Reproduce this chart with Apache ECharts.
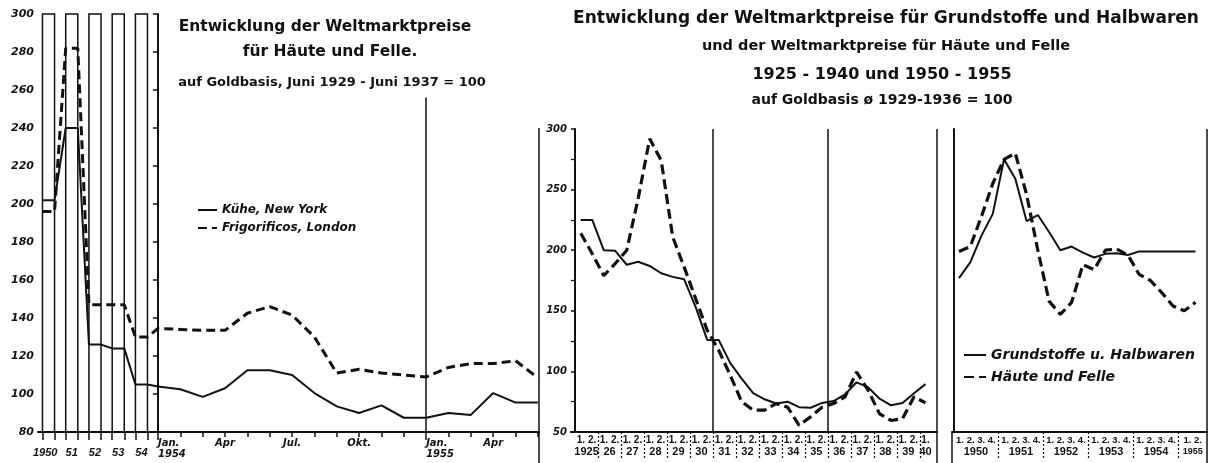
<!DOCTYPE html>
<html>
<head>
<meta charset="utf-8">
<script src="https://cdn.jsdelivr.net/npm/echarts@6/dist/echarts.min.js"></script>
<style>
  html, body { margin: 0; background: #fff; }
  #chart { width: 1209px; height: 463px; }
</style>
</head>
<body>
<div id="chart"></div>
<script>
// linkes Bild: Jahreswerte 1950-1954 (Säulen), dann Monatswerte Jan. 1954 - Jun. 1955
const yearLabels = ["1950", "51", "52", "53", "54"];
const kueheYear = [202, 240, 126, 124, 105];
const frigoYear = [196, 282, 147, 147, 130];
const monthLabels = ["Jan.\n1954", "Apr", "Jul.", "Okt.", "Jan.\n1955", "Apr"];
const monthLabelIdx = [0, 3, 6, 9, 12, 15];
const kueheMonth = [104, 102.5, 98.5, 103, 112.5, 112.5, 110, 100.5, 93.5, 90, 94, 87.5, 87.5, 90, 89, 100.5, 95.5, 95.5];
const frigoMonth = [134.5, 134, 133.5, 133.5, 142.5, 146, 141.5, 130, 111, 113, 111, 110, 109, 114, 116, 116, 117.5, 108.5];

// mittleres Bild: Halbjahreswerte 1925 - 1940 (1. Halbjahr)
const halfYearLabels = ["1925", "26", "27", "28", "29", "30", "31", "32", "33", "34", "35", "36", "37", "38", "39", "40"];
const grundHalf = [225, 225, 200, 199.5, 188, 190.5, 187, 181, 178, 176, 153, 126, 126, 107, 94, 82, 77, 73.5, 75, 70.5, 70, 74, 75.5, 81, 91, 87, 77.5, 72, 74, 82, 89.5];
const haeuteHalf = [214, 197, 179, 189, 200, 243, 292, 274, 211, 186, 160, 134, 117.5, 97, 75, 68, 68, 73.5, 70.5, 55.5, 62.5, 70.5, 73.5, 79, 99.5, 84.5, 65, 59.5, 61, 79, 74];

// rechtes Bild: Vierteljahreswerte 1950 - 1955
const quarterYearLabels = ["1950", "1951", "1952", "1953", "1954", "1955"];
const grundQuarter = [177, 190, 212, 230, 275, 259, 224, 229, 215, 200, 203, 198, 194, 197, 197.5, 196, 199, 199, 199, 199, 199, 199];
const haeuteQuarter = [199, 203, 228, 255, 275, 280, 246, 200, 158, 147, 157, 188, 184, 200, 201, 196, 180, 175, 165, 154, 150, 157];

const ink = "#111";
const LMIN = -5.37, LMAX = 17.05;
const colCenter = (i) => -4.9 + 1.04 * i;
const colHalf = 0.27;

function leftPoints(yearVals, monthVals) {
  const pts = [];
  yearVals.forEach((v, i) => {
    pts.push([colCenter(i) - colHalf, v], [colCenter(i) + colHalf, v]);
  });
  monthVals.forEach((v, m) => pts.push([m, v]));
  return pts;
}
const halfPoints = (vals) => vals.map((v, k) => [k + 0.5, v]);

const leftLabelVals = yearLabels.map((_, i) => colCenter(i) - (i === 0 ? 0.15 : 0))
  .concat(monthLabelIdx.filter((_, j) => !monthLabels[j].startsWith("Jan")));
const leftLabelText = yearLabels.map((t) => "{y|" + t + "}")
  .concat(monthLabels.filter((t) => !t.startsWith("Jan")).map((t) => "{m|" + t + "}"));
const janVals = monthLabelIdx.filter((_, j) => monthLabels[j].startsWith("Jan"));
const janText = monthLabels.filter((t) => t.startsWith("Jan"));
const colEdges = [];
yearLabels.forEach((_, i) => colEdges.push(colCenter(i) - colHalf, colCenter(i) + colHalf));

const pick = (vals, texts) => (v) => {
  const i = vals.findIndex((x) => Math.abs(x - v) < 1e-6);
  return i < 0 ? "" : texts[i];
};

const midLabelVals = halfYearLabels.map((_, i) => (i === 15 ? 30.5 : 2 * i + 1));
const midLabelText = halfYearLabels.map((t, i) => (i === 15 ? "{a|1.}\n{b|" + t + "}" : "{a|1. 2.}\n{b|" + t + "}"));
const rightLabelVals = quarterYearLabels.map((_, i) => (i === 5 ? 21.25 : 4 * i + 2));
const rightLabelText = quarterYearLabels.map((t, i) => (i === 5 ? "{a|1. 2.}\n{c|" + t + "}" : "{a|1. 2. 3. 4.}\n{b|" + t + "}"));

const lbl = { color: ink, fontFamily: "DejaVu Sans", fontWeight: "bold", fontStyle: "italic" };
const narrow = { color: ink, fontFamily: "Liberation Sans", fontWeight: "bold", fontStyle: "italic" };
const small = { color: ink, fontFamily: "Liberation Sans", fontWeight: "bold" };
const vline = { symbol: ["none", "none"], silent: true, label: { show: false },
  lineStyle: { color: ink, width: 1.5, type: "solid" }, emphasis: { disabled: true } };
const seg = (x, y1, y2) => [{ coord: [x, y1] }, { coord: [x, y2] }];
const title = (text, x, y, size) => ({ type: "text", x: x, y: y,
  style: { text: text, font: "bold " + size + "px DejaVu Sans", fill: ink, align: "center", verticalAlign: "middle" } });

const chart = echarts.init(document.getElementById("chart"));
const option = {
  backgroundColor: "#fff",
  animation: false,
  graphic: [
    title("Entwicklung der Weltmarktpreise", 325, 27, 15.5),
    title("für Häute und Felle.", 330, 52, 15.5),
    title("auf Goldbasis, Juni 1929 - Juni 1937 = 100", 332, 83, 13),
    title("Entwicklung der Weltmarktpreise für Grundstoffe und Halbwaren", 886, 19, 17),
    title("und der Weltmarktpreise für Häute und Felle", 886, 46, 14.5),
    title("1925 - 1940 und 1950 - 1955", 882, 75, 16),
    title("auf Goldbasis ø 1929-1936 = 100", 882, 100, 14)
  ],
  legend: [
    {
      data: ["Kühe, New York", "Frigorificos, London"],
      orient: "vertical", left: 192, top: 199, itemWidth: 19, itemHeight: 10, itemGap: 6,
      itemStyle: { opacity: 0 },
      textStyle: { ...lbl, fontSize: 12 }, selectedMode: false
    },
    {
      data: ["Grundstoffe u. Halbwaren", "Häute und Felle"],
      orient: "vertical", left: 958, top: 343, itemWidth: 22, itemHeight: 10, itemGap: 8,
      itemStyle: { opacity: 0 },
      textStyle: { ...lbl, fontSize: 14 }, selectedMode: false
    }
  ],
  grid: [
    { left: 38, top: 14, width: 501, height: 418 },
    { left: 571, top: 129, width: 366, height: 303 },
    { left: 952, top: 129, width: 255, height: 303 }
  ],
  xAxis: [
    {
      gridIndex: 0, type: "value", position: "bottom", min: LMIN, max: LMAX,
      axisLine: { lineStyle: { color: ink, width: 2 } }, splitLine: { show: false },
      axisTick: { customValues: kueheMonth.map((_, m) => m).filter((m) => m !== 0 && m !== 12), length: 5, lineStyle: { color: ink, width: 1.5 } },
      axisLabel: {
        customValues: leftLabelVals, margin: 6, formatter: pick(leftLabelVals, leftLabelText),
        rich: { y: { ...narrow, fontSize: 11, padding: [9, 0, 0, 0] }, m: { ...lbl, fontSize: 10 } }
      }
    },
    {
      gridIndex: 0, type: "value", position: "bottom", min: LMIN, max: LMAX,
      axisLine: { show: false }, splitLine: { show: false },
      axisTick: { customValues: colEdges.concat(janVals), length: 8, lineStyle: { color: ink, width: 1.5 } },
      axisLabel: { customValues: janVals, margin: 6, align: "left", lineHeight: 11, formatter: pick(janVals, janText), ...lbl, fontSize: 10 }
    },
    {
      gridIndex: 0, type: "value", position: "bottom", min: LMIN, max: LMAX,
      axisLine: { show: false }, splitLine: { show: false }, axisLabel: { show: false },
      axisTick: { customValues: [LMAX - 0.001], length: 31, lineStyle: { color: ink, width: 1.5 } }
    },
    {
      gridIndex: 1, type: "value", position: "bottom", min: -0.35, max: 31.5,
      axisLine: { lineStyle: { color: ink, width: 2 } }, splitLine: { show: false },
      axisTick: { customValues: [2, 4, 6, 8, 10, 12, 14, 16, 18, 20, 22, 24, 26, 28, 30], length: 26, lineStyle: { color: ink, width: 1.2, type: [2, 2] } },
      axisLabel: {
        customValues: midLabelVals, margin: 3, formatter: pick(midLabelVals, midLabelText),
        rich: { a: { ...small, fontSize: 10, lineHeight: 11 }, b: { ...small, fontSize: 11, lineHeight: 12 } }
      }
    },
    {
      gridIndex: 1, type: "value", position: "bottom", min: -0.35, max: 31.5,
      axisLine: { show: false }, splitLine: { show: false }, axisLabel: { show: false },
      axisTick: { customValues: [31.49], length: 31, lineStyle: { color: ink, width: 1.5 } }
    },
    {
      gridIndex: 2, type: "value", position: "bottom", min: -0.12, max: 22.52,
      axisLine: { lineStyle: { color: ink, width: 2 } }, splitLine: { show: false },
      axisTick: { customValues: [4, 8, 12, 16, 20], length: 26, lineStyle: { color: ink, width: 1.2, type: [2, 2] } },
      axisLabel: {
        customValues: rightLabelVals, margin: 3, formatter: pick(rightLabelVals, rightLabelText),
        rich: { a: { ...small, fontSize: 9.5, lineHeight: 11 }, b: { ...small, fontSize: 11, lineHeight: 12 }, c: { ...small, fontSize: 9, lineHeight: 12 } }
      }
    },
    {
      gridIndex: 2, type: "value", position: "bottom", min: -0.12, max: 22.52,
      axisLine: { show: false }, splitLine: { show: false }, axisLabel: { show: false },
      axisTick: { customValues: [-0.119, 22.51], length: 31, lineStyle: { color: ink, width: 1.5 } }
    }
  ],
  yAxis: [
    {
      gridIndex: 0, type: "value", min: 80, max: 300, interval: 20,
      axisLine: { show: true, lineStyle: { color: ink, width: 2 } }, splitLine: { show: false },
      axisTick: { show: true, length: 5, lineStyle: { color: ink, width: 1.5 } },
      axisLabel: { ...lbl, fontSize: 11, margin: 4 }
    },
    {
      gridIndex: 1, type: "value", min: 50, max: 300, interval: 50,
      axisLine: { show: true, lineStyle: { color: ink, width: 2 } }, splitLine: { show: false },
      axisTick: { show: true, length: 4, lineStyle: { color: ink, width: 1.5 } },
      minorTick: { show: true, splitNumber: 2, length: 4, lineStyle: { color: ink, width: 1.2 } },
      axisLabel: { ...lbl, fontSize: 10, margin: 4 }
    },
    {
      gridIndex: 2, type: "value", min: 50, max: 300,
      axisLine: { show: true, lineStyle: { color: ink, width: 2 } }, splitLine: { show: false },
      axisTick: { show: false }, axisLabel: { show: false }
    }
  ],
  series: [
    {
      name: "Kühe, New York", type: "line", xAxisIndex: 0, yAxisIndex: 0,
      data: leftPoints(kueheYear, kueheMonth), showSymbol: false, symbol: "none",
      lineStyle: { color: ink, width: 2 }, itemStyle: { color: ink },
      markArea: {
        silent: true,
        itemStyle: { color: "rgba(0,0,0,0)", borderColor: ink, borderWidth: 1.5 },
        data: yearLabels.map((_, i) => [{ coord: [colCenter(i) - colHalf, 300] }, { coord: [colCenter(i) + colHalf, 80] }])
      },
      markLine: { ...vline, data: [seg(0, 80, 300), seg(12, 80, 256), seg(LMAX - 0.001, 80, 240)] }
    },
    {
      name: "Frigorificos, London", type: "line", xAxisIndex: 0, yAxisIndex: 0,
      data: leftPoints(frigoYear, frigoMonth), showSymbol: false, symbol: "none",
      lineStyle: { color: ink, width: 3, type: [9, 5] }, itemStyle: { color: ink }
    },
    {
      name: "Grundstoffe u. Halbwaren", type: "line", xAxisIndex: 3, yAxisIndex: 1,
      data: halfPoints(grundHalf), showSymbol: false, symbol: "none",
      lineStyle: { color: ink, width: 2 }, itemStyle: { color: ink },
      markLine: { ...vline, data: [seg(12, 50, 300), seg(22, 50, 300), seg(31.49, 50, 300)] }
    },
    {
      name: "Häute und Felle", type: "line", xAxisIndex: 3, yAxisIndex: 1,
      data: halfPoints(haeuteHalf), showSymbol: false, symbol: "none",
      lineStyle: { color: ink, width: 3.2, type: [10, 5] }, itemStyle: { color: ink }
    },
    {
      name: "Grundstoffe u. Halbwaren", type: "line", xAxisIndex: 5, yAxisIndex: 2,
      data: halfPoints(grundQuarter), showSymbol: false, symbol: "none",
      lineStyle: { color: ink, width: 2 }, itemStyle: { color: ink },
      markLine: { ...vline, data: [seg(22.51, 50, 300)] }
    },
    {
      name: "Häute und Felle", type: "line", xAxisIndex: 5, yAxisIndex: 2,
      data: halfPoints(haeuteQuarter), showSymbol: false, symbol: "none",
      lineStyle: { color: ink, width: 3.2, type: [10, 5] }, itemStyle: { color: ink }
    }
  ]
};
chart.setOption(option);
</script>
</body>
</html>
